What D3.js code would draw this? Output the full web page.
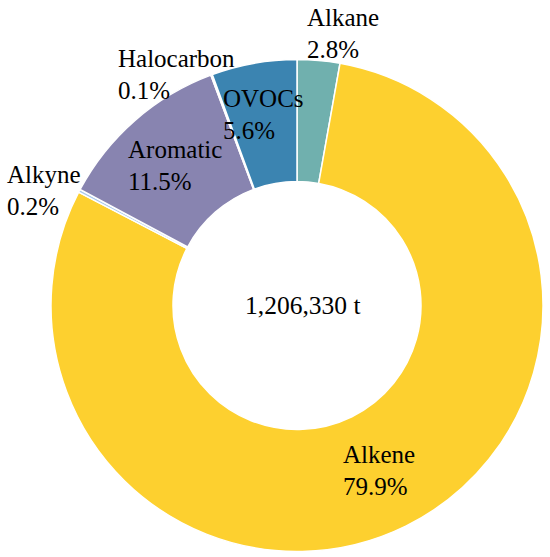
<!DOCTYPE html>
<html>
<head>
<meta charset="utf-8">
<script src="https://cdn.jsdelivr.net/npm/d3@7"></script>
<style>
  html, body { margin: 0; padding: 0; background: #fff; }
  svg { display: block; }
</style>
</head>
<body>
<svg id="chart" width="550" height="557"></svg>
<script>
const categories = ["Alkane", "Alkene", "Alkyne", "Aromatic", "Halocarbon", "OVOCs"];
const values = [2.8, 79.9, 0.2, 11.5, 0.1, 5.6];
const colors = ["#70b0ae", "#fdd02f", "#a9c9ea", "#8884b0", "#b7b7cc", "#3b84b1"];
const totalLabel = "1,206,330 t";
// label anchor positions (left x, first baseline)
const labelPos = [[307, 26], [343, 463], [7, 183], [128, 158], [118, 67], [223, 107]];

const FONT = "'Liberation Serif', 'DejaVu Serif', serif";
const svg = d3.select("#chart");
const cx = 297, cy = 305.5, outerR = 246, innerR = 124;

const pie = d3.pie().sort(null).value(d => d.v);
const data = categories.map((c, i) => ({ c, v: values[i], color: colors[i], pos: labelPos[i] }));
const arcs = pie(data);
const arc = d3.arc().innerRadius(innerR).outerRadius(outerR);

const g = svg.append("g").attr("transform", `translate(${cx},${cy})`);
g.selectAll("path").data(arcs).enter().append("path")
  .attr("d", arc)
  .attr("fill", d => d.data.color)
  .attr("stroke", "#fff")
  .attr("stroke-width", 1.5);

const lineGap = 32;
const lbl = svg.append("g").selectAll("text").data(data).enter().append("text")
  .attr("x", d => d.pos[0])
  .attr("y", d => d.pos[1])
  .attr("font-family", FONT)
  .attr("fill", "#000")
  .attr("font-size", 25);
lbl.append("tspan").text(d => d.c);
lbl.append("tspan").attr("x", d => d.pos[0]).attr("dy", lineGap)
  .text(d => d3.format(".1f")(d.v) + "%");

svg.append("text")
  .attr("x", 245).attr("y", 314)
  .attr("font-family", FONT)
  .attr("fill", "#000")
  .attr("font-size", 25.5)
  .text(totalLabel);
</script>
</body>
</html>
